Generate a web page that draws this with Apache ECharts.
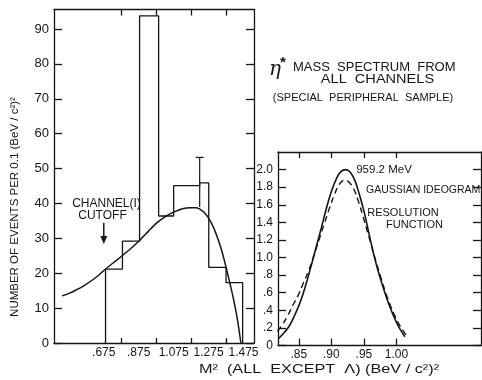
<!DOCTYPE html>
<html>
<head>
<meta charset="utf-8">
<script src="https://cdn.jsdelivr.net/npm/echarts@6/dist/echarts.min.js"></script>
<style>
html,body{margin:0;padding:0;background:#fff;}
#c{width:482px;height:380px;}
</style>
</head>
<body>
<div id="c"></div>
<script>
// ---- Left panel data: histogram of M^2 (all except Lambda) ----
const histEdges = [0.685, 0.782, 0.880, 0.989, 1.075, 1.224, 1.276, 1.375, 1.470];
const histCounts = [21.2, 29.2, 93.8, 36.4, 45.1, 45.9, 21.7, 17.3];
// error bar
const errX = [1.224];
const errLow = [39.0];
const errHigh = [53.2];
// smooth fitted curve
const fitX = [0.436, 0.48, 0.52, 0.56, 0.60, 0.64, 0.685, 0.73, 0.78, 0.83, 0.88, 0.93, 0.98, 1.03, 1.075, 1.12, 1.17, 1.20, 1.225, 1.25, 1.275, 1.30, 1.325, 1.35, 1.375, 1.40, 1.42, 1.44, 1.46];
const fitY = [13.5, 14.3, 15.3, 16.4, 17.7, 19.2, 21.2, 23.0, 25.0, 27.1, 29.4, 32.0, 34.5, 36.3, 37.5, 38.4, 38.8, 38.8, 38.4, 37.4, 35.8, 33.5, 30.3, 26.5, 21.7, 16.5, 12.0, 6.8, 0];
// cutoff arrow (value on x, from/to y)
const cutoffX = [0.675];
const cutoffFromTo = [34.5, 28.4];
// left tick labels
const leftXLabelValues = [0.675, 0.875, 1.075, 1.275, 1.475];
const leftXLabels = ['.675', '.875', '1.075', '1.275', '1.475'];
const leftXTickValues = [0.775, 0.975, 1.175, 1.375];
const leftYTickValues = [0, 10, 20, 30, 40, 50, 60, 70, 80, 90];

// ---- Right panel data: Gaussian ideogram and resolution function ----
const idoX = [0.819, 0.828, 0.836, 0.844, 0.852, 0.860, 0.868, 0.876, 0.884, 0.892, 0.900, 0.908, 0.915, 0.922, 0.929, 0.936, 0.943, 0.950, 0.957, 0.964, 0.971, 0.978, 0.985, 0.992, 0.999, 1.006, 1.013];
const idoY = [0.08, 0.15, 0.23, 0.35, 0.49, 0.67, 0.88, 1.10, 1.32, 1.55, 1.75, 1.90, 1.98, 2.00, 1.97, 1.88, 1.72, 1.53, 1.30, 1.07, 0.87, 0.70, 0.54, 0.40, 0.28, 0.18, 0.10];
const resX = [0.817, 0.825, 0.833, 0.841, 0.849, 0.857, 0.865, 0.873, 0.881, 0.889, 0.897, 0.905, 0.912, 0.920, 0.928, 0.935, 0.942, 0.949, 0.956, 0.963, 0.970, 0.977, 0.984, 0.991, 0.998, 1.005, 1.012, 1.018];
const resY = [0.16, 0.24, 0.34, 0.46, 0.57, 0.71, 0.85, 1.02, 1.20, 1.38, 1.56, 1.72, 1.83, 1.88, 1.85, 1.77, 1.63, 1.46, 1.28, 1.10, 0.92, 0.75, 0.59, 0.45, 0.33, 0.23, 0.15, 0.09];
const rightXTickValues = [0.85, 0.90, 0.95, 1.00];
const rightXLabels = ['.85', '.90', '.95', '1.00'];
const rightYTickValues = [0, 0.2, 0.4, 0.6, 0.8, 1.0, 1.2, 1.4, 1.6, 1.8, 2.0];
const rightYLabels = ['0', '.2', '.4', '.6', '.8', '1.0', '1.2', '1.4', '1.6', '1.8', '2.0'];

// build step outline
const histLine = [[histEdges[0], 0]];
for (let i = 0; i < histCounts.length; i++) {
  histLine.push([histEdges[i], histCounts[i]]);
  histLine.push([histEdges[i + 1], histCounts[i]]);
}
histLine.push([histEdges[histEdges.length - 1], 0]);

const fitData = fitX.map((x, i) => [x, fitY[i]]);
const idoData = idoX.map((x, i) => [x, idoY[i]]);
const resData = resX.map((x, i) => [x, resY[i]]);
const errData = errX.map((x, i) => [x, errLow[i], errHigh[i]]);
const arrowData = [[cutoffX[0], cutoffFromTo[0], cutoffFromTo[1]]];

const INK = '#151515';
const FONT = '"Liberation Sans", Arial, sans-serif';
const lineStyleAxis = { color: INK, width: 1.3 };

function labelMap(values, labels) {
  return function (v) {
    for (let i = 0; i < values.length; i++) if (Math.abs(values[i] - v) < 1e-6) return labels[i];
    return '';
  };
}
function txt(x, y, text, size, align, extra) {
  const el = { type: 'text', x: x, y: y, style: { text: text, font: size + 'px ' + FONT, fill: INK,
    textAlign: align, align: align, textVerticalAlign: 'middle', verticalAlign: 'middle' } };
  return Object.assign(el, extra || {});
}

const chart = echarts.init(document.getElementById('c'), null, { renderer: 'canvas' });

const option = {
  backgroundColor: '#ffffff',
  animation: false,
  grid: [
    { left: 54, top: 9.5, width: 200, height: 333.5 },
    { left: 278, top: 152, width: 203, height: 193.5 }
  ],
  xAxis: [
    { gridIndex: 0, type: 'value', min: 0.39, max: 1.535, position: 'bottom',
      axisLine: { show: true, lineStyle: lineStyleAxis },
      axisTick: { show: true, inside: true, length: 5, customValues: leftXTickValues, lineStyle: lineStyleAxis },
      axisLabel: { show: true, customValues: leftXLabelValues, formatter: labelMap(leftXLabelValues, leftXLabels),
        color: INK, fontFamily: FONT, fontSize: 12, margin: 4 },
      splitLine: { show: false } },
    { gridIndex: 0, type: 'value', min: 0.39, max: 1.535, position: 'top',
      axisLine: { show: true, onZero: false, lineStyle: lineStyleAxis },
      axisTick: { show: true, inside: true, length: 6, customValues: leftXTickValues, lineStyle: lineStyleAxis },
      axisLabel: { show: false }, splitLine: { show: false } },
    { gridIndex: 1, type: 'value', min: 0.818, max: 1.13, position: 'bottom',
      axisLine: { show: true, onZero: false, lineStyle: lineStyleAxis },
      axisTick: { show: true, inside: true, length: 7, customValues: rightXTickValues, lineStyle: lineStyleAxis },
      axisLabel: { show: true, customValues: rightXTickValues, formatter: labelMap(rightXTickValues, rightXLabels),
        color: INK, fontFamily: FONT, fontSize: 12, margin: 3 },
      splitLine: { show: false } },
    { gridIndex: 1, type: 'value', min: 0.818, max: 1.13, position: 'top',
      axisLine: { show: true, onZero: false, lineStyle: lineStyleAxis },
      axisTick: { show: true, inside: true, length: 6, customValues: rightXTickValues, lineStyle: lineStyleAxis },
      axisLabel: { show: false }, splitLine: { show: false } }
  ],
  yAxis: [
    { gridIndex: 0, type: 'value', min: 0, max: 95.6, position: 'left',
      axisLine: { show: true, onZero: false, lineStyle: lineStyleAxis },
      axisTick: { show: true, inside: true, length: 8, customValues: leftYTickValues, lineStyle: lineStyleAxis },
      axisLabel: { show: true, customValues: leftYTickValues, color: INK, fontFamily: FONT, fontSize: 13, margin: 5 },
      splitLine: { show: false } },
    { gridIndex: 0, type: 'value', min: 0, max: 95.6, position: 'right',
      axisLine: { show: true, onZero: false, lineStyle: lineStyleAxis },
      axisTick: { show: true, inside: true, length: 8, customValues: leftYTickValues, lineStyle: lineStyleAxis },
      axisLabel: { show: false }, splitLine: { show: false } },
    { gridIndex: 1, type: 'value', min: 0, max: 2.2, position: 'left',
      axisLine: { show: true, onZero: false, lineStyle: lineStyleAxis },
      axisTick: { show: true, inside: true, length: 8, customValues: rightYTickValues, lineStyle: lineStyleAxis },
      axisLabel: { show: true, customValues: rightYTickValues, formatter: labelMap(rightYTickValues, rightYLabels),
        color: INK, fontFamily: FONT, fontSize: 12, margin: 5 },
      splitLine: { show: false } },
    { gridIndex: 1, type: 'value', min: 0, max: 2.2, position: 'right',
      axisLine: { show: true, onZero: false, lineStyle: lineStyleAxis },
      axisTick: { show: true, inside: true, length: 8, customValues: rightYTickValues, lineStyle: lineStyleAxis },
      axisLabel: { show: false }, splitLine: { show: false } }
  ],
  series: [
    { type: 'line', name: 'hist', xAxisIndex: 0, yAxisIndex: 0, data: histLine, showSymbol: false,
      lineStyle: { color: INK, width: 1.3 }, z: 3 },
    { type: 'line', name: 'fit', xAxisIndex: 0, yAxisIndex: 0, data: fitData, showSymbol: false,
      smooth: 0.3, lineStyle: { color: INK, width: 1.5 }, z: 4 },
    { type: 'custom', name: 'err', xAxisIndex: 0, yAxisIndex: 0, data: errData, z: 5,
      renderItem: function (params, api) {
        const lo = api.coord([api.value(0), api.value(1)]);
        const hi = api.coord([api.value(0), api.value(2)]);
        const st = { stroke: INK, lineWidth: 1.2 };
        return { type: 'group', children: [
          { type: 'line', shape: { x1: lo[0], y1: lo[1], x2: hi[0], y2: hi[1] }, style: st },
          { type: 'line', shape: { x1: hi[0] - 4, y1: hi[1], x2: hi[0] + 4, y2: hi[1] }, style: st }
        ] };
      } },
    { type: 'custom', name: 'cutoff', xAxisIndex: 0, yAxisIndex: 0, data: arrowData, z: 5,
      renderItem: function (params, api) {
        const a = api.coord([api.value(0), api.value(1)]);
        const b = api.coord([api.value(0), api.value(2)]);
        return { type: 'group', children: [
          { type: 'line', shape: { x1: a[0], y1: a[1], x2: b[0], y2: b[1] - 3 }, style: { stroke: INK, lineWidth: 1.5 } },
          { type: 'polygon', shape: { points: [[b[0] - 3.5, b[1] - 8], [b[0] + 3.5, b[1] - 8], [b[0], b[1]]] }, style: { fill: INK } }
        ] };
      } },
    { type: 'line', name: 'ideogram', xAxisIndex: 2, yAxisIndex: 2, data: idoData, showSymbol: false,
      smooth: 0.4, lineStyle: { color: INK, width: 1.6 } },
    { type: 'line', name: 'resolution', xAxisIndex: 2, yAxisIndex: 2, data: resData, showSymbol: false,
      smooth: 0.4, lineStyle: { color: INK, width: 1.4, type: [6, 4] } }
  ],
  graphic: [
    { type: 'text', x: 275, y: 70, style: { text: 'η', font: 'italic 20px "DejaVu Serif", serif', fill: INK, textAlign: 'center', align: 'center', textVerticalAlign: 'middle', verticalAlign: 'middle' } },
    { type: 'text', x: 283, y: 63, style: { text: '*', font: 'bold 15px ' + FONT, fill: INK, textAlign: 'center', align: 'center', textVerticalAlign: 'middle', verticalAlign: 'middle' } },
    txt(293, 67.5, 'MASS  SPECTRUM  FROM', 13, 'left'),
    txt(377.5, 79.5, 'ALL  CHANNELS', 13, 'center', { scaleX: 1.12 }),
    txt(363, 97.5, '(SPECIAL  PERIPHERAL  SAMPLE)', 11, 'center'),
    txt(106.5, 204, 'CHANNEL(I)', 12, 'center'),
    txt(102.5, 216, 'CUTOFF', 12, 'center'),
    txt(384, 170, '959.2 MeV', 11.5, 'center'),
    txt(366, 190, 'GAUSSIAN IDEOGRAM', 10.5, 'left'),
    txt(403, 212.5, 'RESOLUTION', 11, 'center'),
    txt(414.5, 224.5, 'FUNCTION', 11, 'center'),
    txt(319, 370, 'M²  (ALL  EXCEPT  Λ) (BeV / c²)²', 12.5, 'center', { scaleX: 1.3 }),
    txt(15, 207, 'NUMBER OF EVENTS PER 0.1 (BeV / c²)²', 11.5, 'center', { rotation: Math.PI / 2 })
  ]
};
chart.setOption(option);
</script>
</body>
</html>
